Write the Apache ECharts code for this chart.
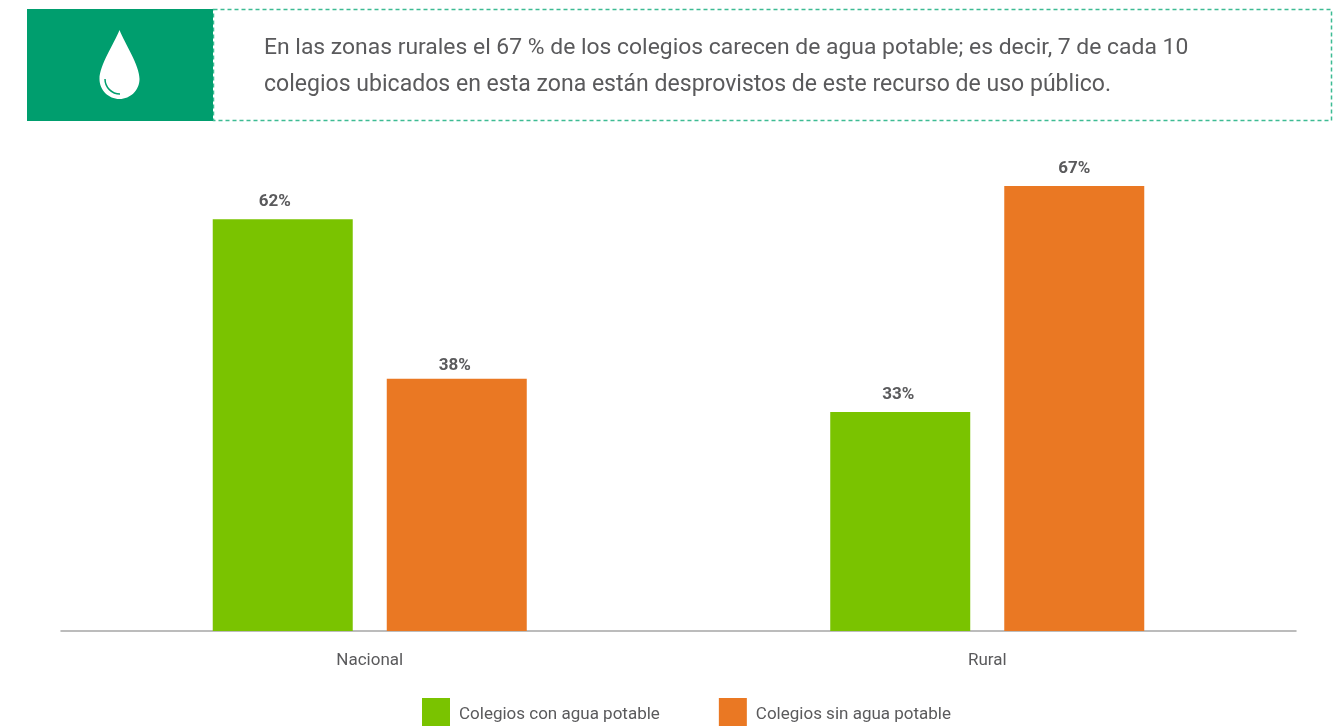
<!DOCTYPE html>
<html><head><meta charset="utf-8">
<style>html,body{margin:0;padding:0;background:#fff}#c{width:1340px;height:727px}</style>
<script src="https://cdn.jsdelivr.net/npm/echarts@6/dist/echarts.min.js"></script>
</head><body><div id="c"></div>
<script>
const categories = ['Nacional', 'Rural'];
const seriesNames = ['Colegios con agua potable', 'Colegios sin agua potable'];
const conAgua = [62, 33];
const sinAgua = [38, 67];
const headline = [
  'En las zonas rurales el 67 % de los colegios carecen de agua potable; es decir, 7 de cada 10',
  'colegios ubicados en esta zona están desprovistos de este recurso de uso público.'
];
const GREEN = '#7AC300', ORANGE = '#EA7823', TEAL = '#009E6E', DASH = '#3DBB93', TEXT = '#5A5A5C';
const BODY = 'Roboto, "Liberation Sans", sans-serif';
echarts.graphic.registerShape('drop', echarts.graphic.extendShape({
  shape: {},
  buildPath(ctx) {
    ctx.moveTo(119.5, 30);
    ctx.bezierCurveTo(114, 44, 99.5, 65, 99.5, 79);
    ctx.bezierCurveTo(99.5, 90, 108.5, 99, 119.5, 99);
    ctx.bezierCurveTo(130.5, 99, 139.5, 90, 139.5, 79);
    ctx.bezierCurveTo(139.5, 65, 125, 44, 119.5, 30);
    ctx.closePath();
  }
}));
const chart = echarts.init(document.getElementById('c'), null, {renderer: 'canvas'});
const label = {show: true, position: 'top', distance: 9, formatter: '{c}%', fontFamily: BODY, fontWeight: 'bold', fontSize: 17, color: TEXT};
chart.setOption({
  animation: false,
  backgroundColor: '#fff',
  grid: {left: 61, right: 44, top: 131, bottom: 96, containLabel: false},
  xAxis: {
    type: 'category', data: categories,
    axisLine: {lineStyle: {color: '#A6A6A6', width: 1.5}},
    axisTick: {show: false},
    axisLabel: {margin: 21, fontFamily: BODY, fontSize: 17, color: TEXT}
  },
  yAxis: {type: 'value', min: 0, max: 75.3, show: false, splitLine: {show: false}},
  legend: {
    left: 422, top: 698, padding: 0, icon: 'rect', itemWidth: 28, itemHeight: 28, itemGap: 59,
    formatter: name => '{t|' + name + '}',
    textStyle: {fontFamily: BODY, fontSize: 17, color: TEXT,
      rich: {t: {fontFamily: BODY, fontSize: 17, color: TEXT, padding: [6, 0, 0, 4]}}},
    data: seriesNames
  },
  series: [
    {name: seriesNames[0], type: 'bar', barWidth: 140, barGap: '24.3%', itemStyle: {color: GREEN}, label,
     data: [{value: conAgua[0], label: {offset: [-8, 0]}}, {value: conAgua[1], label: {offset: [-2, 0]}}]},
    {name: seriesNames[1], type: 'bar', barWidth: 140, itemStyle: {color: ORANGE}, label,
     data: [{value: sinAgua[0], label: {offset: [-2, 5]}}, {value: sinAgua[1]}]}
  ],
  graphic: [
    {type: 'rect', silent: true, shape: {x: 213.5, y: 9.5, width: 1118, height: 111}, style: {fill: 'none', stroke: DASH, lineWidth: 1.5, lineDash: [4, 3]}},
    {type: 'rect', silent: true, shape: {x: 27, y: 9, width: 186, height: 112}, style: {fill: TEAL}},
    {type: 'drop', silent: true, style: {fill: '#fff'}},
    {type: 'arc', silent: true, shape: {cx: 120, cy: 79, r: 15, startAngle: Math.PI / 2, endAngle: Math.PI, clockwise: true}, style: {fill: 'none', stroke: TEAL, lineWidth: 1.5}},
    {type: 'text', silent: true, x: 264, y: 48, style: {text: headline[0], fontFamily: BODY, fontSize: 22.9, fill: TEXT, verticalAlign: 'middle'}},
    {type: 'text', silent: true, x: 264, y: 85, style: {text: headline[1], fontFamily: BODY, fontSize: 23.05, fill: TEXT, verticalAlign: 'middle'}}
  ]
});
</script></body></html>
